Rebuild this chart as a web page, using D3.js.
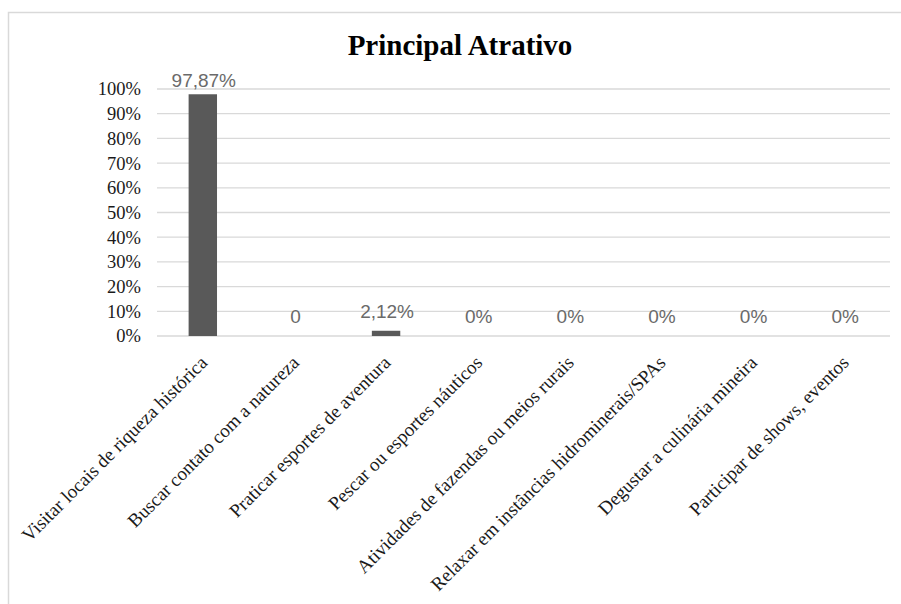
<!DOCTYPE html>
<html>
<head>
<meta charset="utf-8">
<script src="https://cdn.jsdelivr.net/npm/d3@7"></script>
<style>
  body { margin: 0; background: #fff; }
  svg { display: block; }
</style>
</head>
<body>
<div id="chart"></div>
<script>
const categories = [
  'Visitar locais de riqueza histórica',
  'Buscar contato com a natureza',
  'Praticar esportes de aventura',
  'Pescar ou esportes náuticos',
  'Atividades de fazendas ou meios rurais',
  'Relaxar em instâncias hidrominerais/SPAs',
  'Degustar a culinária mineira',
  'Participar de shows, eventos'
];
const values = [97.87, 0, 2.12, 0, 0, 0, 0, 0];
const valueLabels = ['97,87%', '0', '2,12%', '0%', '0%', '0%', '0%', '0%'];
const yTicks = [0, 10, 20, 30, 40, 50, 60, 70, 80, 90, 100];

const W = 901, H = 604;
const plot = { left: 157, right: 890, top: 89, bottom: 336 };
const serif = '"Liberation Serif", "Times New Roman", serif';

const svg = d3.select('#chart').append('svg')
  .attr('width', W)
  .attr('height', H);

// chart area border (runs off the right and bottom edges)
svg.append('rect')
  .attr('x', 8.5).attr('y', 12.5)
  .attr('width', 910).attr('height', 610)
  .attr('fill', '#fff')
  .attr('stroke', '#d9d9d9')
  .attr('stroke-width', 1.5);

svg.append('text')
  .attr('x', 460).attr('y', 55)
  .attr('text-anchor', 'middle')
  .style('font-family', serif)
  .style('font-weight', 'bold')
  .style('font-size', '29px')
  .attr('fill', '#000')
  .text('Principal Atrativo');

const x = d3.scaleBand()
  .domain(categories)
  .range([plot.left, plot.right])
  .padding(0);

const y = d3.scaleLinear()
  .domain([0, 100])
  .range([plot.bottom, plot.top]);

// gridlines
svg.append('g')
  .selectAll('line')
  .data(yTicks)
  .enter().append('line')
  .attr('x1', plot.left).attr('x2', plot.right)
  .attr('y1', d => y(d)).attr('y2', d => y(d))
  .attr('stroke', '#d9d9d9')
  .attr('stroke-width', 1.3);

// y axis labels
const yAxis = svg.append('g')
  .attr('transform', `translate(${plot.left},0)`)
  .call(d3.axisLeft(y).tickValues(yTicks).tickFormat(d => d + '%').tickSize(0).tickPadding(16));
yAxis.select('.domain').remove();
yAxis.selectAll('text')
  .style('font-family', serif)
  .style('font-size', '18.5px')
  .attr('fill', '#1a1a1a');

// bars
const barW = x.bandwidth() * 0.31;
svg.selectAll('.bar')
  .data(values)
  .enter().append('rect')
  .attr('class', 'bar')
  .attr('x', (d, i) => x(categories[i]) + x.bandwidth() / 2 - barW / 2)
  .attr('y', d => y(d))
  .attr('width', barW)
  .attr('height', d => plot.bottom - y(d))
  .attr('fill', '#595959');

// data labels
svg.selectAll('.vlabel')
  .data(values)
  .enter().append('text')
  .attr('class', 'vlabel')
  .attr('x', (d, i) => x(categories[i]) + x.bandwidth() / 2 + 1)
  .attr('y', d => Math.max(y(d) - 13, plot.top - 2))
  .attr('text-anchor', 'middle')
  .style('font-family', '"Liberation Sans", Arial, sans-serif')
  .style('font-size', '19px')
  .attr('fill', '#6a6a6a')
  .text((d, i) => valueLabels[i]);

// category labels, rotated
svg.selectAll('.xlabel')
  .data(categories)
  .enter().append('text')
  .attr('class', 'xlabel')
  .attr('transform', d => `translate(${x(d) + x.bandwidth() / 2 + 1},${plot.bottom + 23}) rotate(-45)`)
  .attr('dy', '0.35em')
  .attr('text-anchor', 'end')
  .style('font-family', serif)
  .style('font-size', '19px')
  .attr('fill', '#1a1a1a')
  .text(d => d);
</script>
</body>
</html>
